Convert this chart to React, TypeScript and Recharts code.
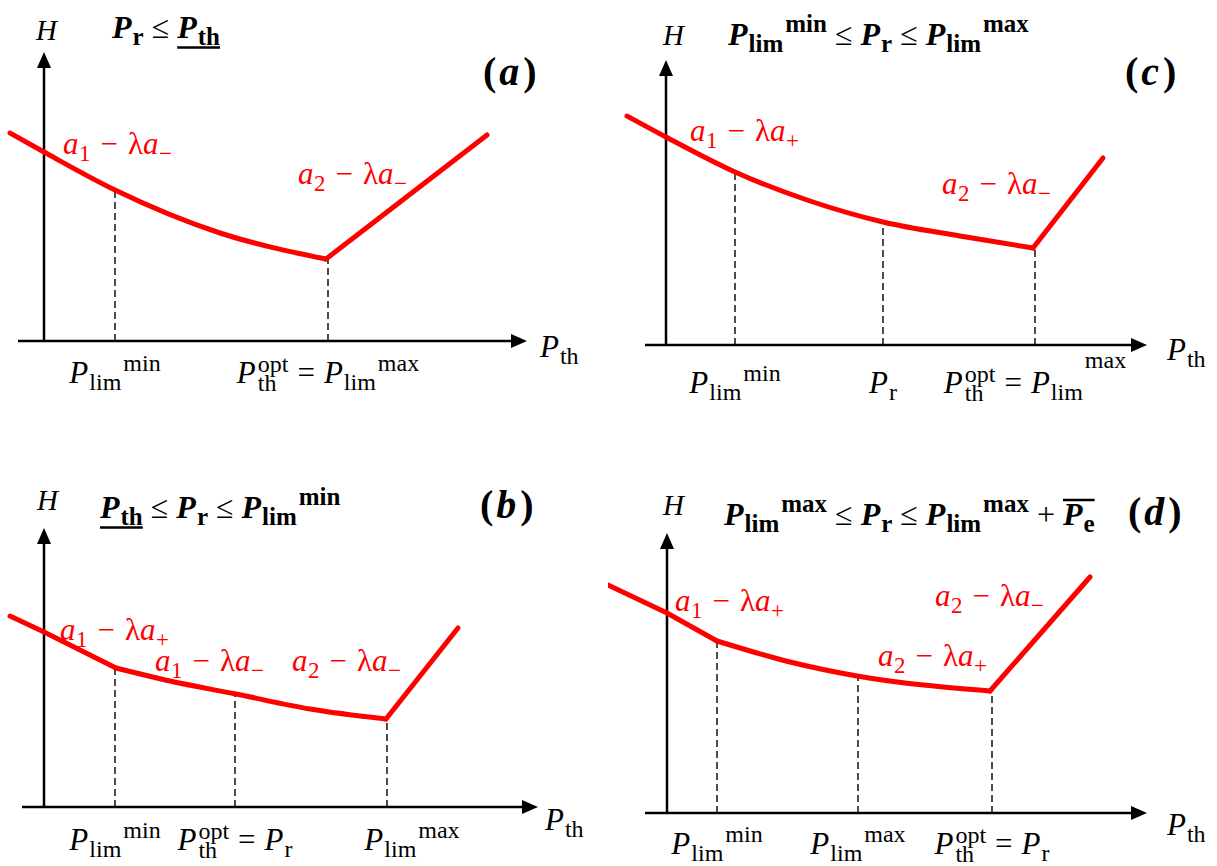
import React from 'react';
import { LineChart, Line, XAxis, YAxis, ReferenceLine, ReferenceDot } from 'recharts';

// Every panel uses the same unit: 1 unit = 10 px of the figure,
// counted from the origin of that panel's own axes (x right, H up).
type Pt = { x: number; h: number };

// (a)  P_r <= P_th
const aArc: Pt[] = [{ x: -3.4, h: 20.8 }, { x: 0, h: 18.9 }, { x: 7.1, h: 15.1 }, { x: 17.6, h: 10.8 }, { x: 28.2, h: 8.2 }];
const aRise: Pt[] = [{ x: 28.2, h: 8.2 }, { x: 44.3, h: 20.6 }];
const aGuides: Pt[] = [{ x: 7.1, h: 15.1 }, { x: 28.4, h: 8.2 }];

// (c)  P_lim^min <= P_r <= P_lim^max
const cArc: Pt[] = [{ x: -3.9, h: 22.9 }, { x: 0, h: 20.8 }, { x: 6.9, h: 17.3 }, { x: 14.4, h: 14.4 }, { x: 21.7, h: 12.3 }, { x: 29.4, h: 10.9 }, { x: 36.7, h: 9.7 }];
const cRise: Pt[] = [{ x: 36.7, h: 9.7 }, { x: 43.7, h: 18.7 }];
const cGuides: Pt[] = [{ x: 6.9, h: 17.3 }, { x: 21.7, h: 12.3 }, { x: 36.9, h: 9.7 }];

// (b)  P_th <= P_r <= P_lim^min
const bFirst: Pt[] = [{ x: -3.4, h: 19.1 }, { x: 0, h: 17.5 }, { x: 7.2, h: 13.9 }];
const bMiddle: Pt[] = [{ x: 7.2, h: 13.9 }, { x: 12.6, h: 12.6 }, { x: 19.2, h: 11.3 }, { x: 26.6, h: 9.8 }, { x: 34.2, h: 8.8 }];
const bRise: Pt[] = [{ x: 34.2, h: 8.8 }, { x: 41.4, h: 17.9 }];
const bGuides: Pt[] = [{ x: 7.1, h: 13.9 }, { x: 19.1, h: 11.3 }, { x: 34.3, h: 8.8 }];

// (d)  P_lim^max <= P_r <= P_lim^max + P_e
const dFirst: Pt[] = [{ x: -5.9, h: 22.8 }, { x: 0, h: 20.0 }, { x: 5.0, h: 17.2 }];
const dMiddle: Pt[] = [{ x: 5.0, h: 17.2 }, { x: 12.3, h: 15.1 }, { x: 19.0, h: 13.7 }, { x: 32.3, h: 12.2 }];
const dRise: Pt[] = [{ x: 32.3, h: 12.2 }, { x: 42.3, h: 23.6 }];
const dGuides: Pt[] = [{ x: 5.0, h: 17.2 }, { x: 19.1, h: 13.7 }, { x: 32.5, h: 12.2 }];

// ---- math text pieces: [kind, text, extra]
type Run = [string, string, string?];
const P_LIM_MIN: Run[] = [['i', 'P'], ['sub', 'lim'], ['sup', 'min']];
const P_LIM_MAX: Run[] = [['i', 'P'], ['sub', 'lim'], ['sup', 'max']];
const P_OPT: Run[] = [['i', 'P'], ['st', 'th', 'opt']];
const P_R: Run[] = [['i', 'P'], ['sub', 'r']];
const P_TH: Run[] = [['i', 'P'], ['sub', 'th']];
const H_LBL: Run[] = [['i', 'H']];
const A1_MINUS: Run[] = [['i', 'a'], ['sub', '1'], ['op', '−'], ['r', 'λ'], ['i', 'a'], ['sub', '−']];
const A1_PLUS: Run[] = [['i', 'a'], ['sub', '1'], ['op', '−'], ['r', 'λ'], ['i', 'a'], ['sub', '+']];
const A2_MINUS: Run[] = [['i', 'a'], ['sub', '2'], ['op', '−'], ['r', 'λ'], ['i', 'a'], ['sub', '−']];
const A2_PLUS: Run[] = [['i', 'a'], ['sub', '2'], ['op', '−'], ['r', 'λ'], ['i', 'a'], ['sub', '+']];
const tag = (c: string): Run[] => [['b', '('], ['g', '3'], ['bi', c], ['g', '4'], ['b', ')']];

const aTicks: Run[][] = [P_LIM_MIN, [...P_OPT, ['op', '='], ...P_LIM_MAX]];
const cTicks: Run[][] = [P_LIM_MIN, P_R, [...P_OPT, ['op', '='], ['i', 'P'], ['sub', 'lim'], ['hsup', 'max']]];
const bTicks: Run[][] = [P_LIM_MIN, [...P_OPT, ['op', '='], ...P_R], P_LIM_MAX];
const dTicks: Run[][] = [P_LIM_MIN, P_LIM_MAX, [...P_OPT, ['op', '='], ...P_R]];

const aTitle: Run[] = [['bi', 'P'], ['bsub', 'r'], ['op', '≤'], ['bi', 'P', 'u'], ['bsub', 'th', 'u']];
const cTitle: Run[] = [['bi', 'P'], ['bsub', 'lim'], ['bsup', 'min'], ['op', '≤'], ['bi', 'P'], ['bsub', 'r'], ['op', '≤'], ['bi', 'P'], ['bsub', 'lim'], ['bsup', 'max']];
const bTitle: Run[] = [['bi', 'P', 'u'], ['bsub', 'th', 'u'], ['op', '≤'], ['bi', 'P'], ['bsub', 'r'], ['op', '≤'], ['bi', 'P'], ['bsub', 'lim'], ['bsup', 'min']];
const dTitle: Run[] = [['bi', 'P'], ['bsub', 'lim'], ['bsup', 'max'], ['op', '≤'], ['bi', 'P'], ['bsub', 'r'], ['op', '≤'], ['bi', 'P'], ['bsub', 'lim'], ['bsup', 'max'], ['op', '+'], ['bi', 'P', 'o'], ['bsub', 'e', 'o']];

type Sty = { main: number; small: number; pad: number; gap: number };
const STY: Record<string, Sty> = {
  tick: { main: 31, small: 24, pad: 9, gap: 2 },
  red: { main: 31, small: 23, pad: 10, gap: 1 },
  title: { main: 32, small: 25, pad: 8, gap: 2 },
  tag: { main: 40, small: 24, pad: 0, gap: 0 },
  h: { main: 29, small: 20, pad: 0, gap: 0 },
};

const FONT = '"Liberation Serif", "Times New Roman", serif';
let ctx: CanvasRenderingContext2D | null = null;
function textWidth(t: string, size: number, italic: boolean, bold: boolean) {
  if (!ctx) ctx = document.createElement('canvas').getContext('2d');
  if (!ctx) return t.length * size * 0.5;
  ctx.font = `${italic ? 'italic ' : ''}${bold ? 'bold ' : ''}${size}px ${FONT}`;
  return ctx.measureText(t).width;
}

function layout(runs: Run[], s: Sty) {
  const items: any[] = [];
  const decos: any[] = [];
  let x = 0;
  for (const [k, t, e] of runs) {
    if (k === 'g') { x += Number(t); continue; }
    if (k === 'st') {
      const w1 = textWidth(t, s.small, false, false);
      const w2 = textWidth(e || '', s.small, false, false);
      items.push({ t, x: x + s.gap, dy: s.main * 0.27, size: s.small, italic: false, bold: false });
      items.push({ t: e, x: x + s.gap, dy: -s.main * 0.36, size: s.small, italic: false, bold: false });
      x += s.gap + Math.max(w1, w2);
      continue;
    }
    const bold = k.startsWith('b');
    const italic = k === 'i' || k === 'bi';
    let size = s.main, dy = 0, lead = 0, trail = 0;
    if (k === 'op') { lead = s.pad; trail = s.pad; }
    if (k.endsWith('sub')) { size = s.small; dy = s.main * 0.22; lead = s.gap / 2; }
    if (k.endsWith('sup')) { size = s.small; dy = -s.main * 0.4; lead = s.gap; }
    if (k === 'hsup') dy = -s.main * 0.8;
    x += lead;
    const w = textWidth(t, size, italic, bold);
    items.push({ t, x, dy, size, italic, bold });
    if (e) {
      const last = decos[decos.length - 1];
      if (last && last.kind === e && x - last.x2 < 6) last.x2 = x + w;
      else decos.push({ x1: x, x2: x + w, kind: e });
    }
    x += w + trail;
  }
  return { items, decos, width: x };
}

const MathText = ({ x, y, runs, sty, fill = '#000', anchor = 'start', shift = 0 }: any) => {
  const s: Sty = STY[sty];
  const L = layout(runs, s);
  const x0 = (anchor === 'middle' ? x - L.width / 2 : x) + shift;
  return (
    <g>
      {L.items.map((it: any, i: number) => (
        <text key={i} x={x0 + it.x} y={y + it.dy} fontFamily={FONT} fontSize={it.size}
          fontStyle={it.italic ? 'italic' : 'normal'} fontWeight={it.bold ? 700 : 400} fill={fill}>
          {it.t}
        </text>
      ))}
      {L.decos.map((d: any, i: number) => {
        const yy = d.kind === 'u' ? y + s.main * 0.3 : y - s.main * 0.78;
        return <line key={'d' + i} x1={x0 + d.x1} x2={x0 + d.x2} y1={yy} y2={yy} stroke={fill} strokeWidth={2.5} />;
      })}
    </g>
  );
};

type Note = { x: number; h: number; runs: Run[]; sty: string; red?: boolean };
type Panel = {
  box: { left: number; top: number; w: number; h: number };
  origin: { x: number; y: number };
  axis: { from: number; to: number; top: number };
  lines: { pts: Pt[]; smooth: boolean }[];
  guides: Pt[];
  ticks: Run[][];
  tickDy: number;
  tickShift: number[];
  notes: Note[];
};

const PANELS: Panel[] = [
  {
    box: { left: 0, top: 0, w: 608, h: 430 }, origin: { x: 44, y: 341 },
    axis: { from: -2.6, to: 48.3, top: 28.9 },
    lines: [{ pts: aArc, smooth: true }, { pts: aRise, smooth: false }],
    guides: aGuides, ticks: aTicks, tickDy: 42, tickShift: [0, 0],
    notes: [
      { x: -0.8, h: 30.1, runs: H_LBL, sty: 'h' },
      { x: 6.8, h: 30.3, runs: aTitle, sty: 'title' },
      { x: 43.9, h: 25.6, runs: tag('a'), sty: 'tag' },
      { x: 49.6, h: -1.6, runs: P_TH, sty: 'tick' },
      { x: 1.9, h: 18.7, runs: A1_MINUS, sty: 'red', red: true },
      { x: 25.4, h: 15.7, runs: A2_MINUS, sty: 'red', red: true },
    ],
  },
  {
    box: { left: 608, top: 0, w: 609, h: 430 }, origin: { x: 666, y: 345 },
    axis: { from: -2.1, to: 48.1, top: 28.5 },
    lines: [{ pts: cArc, smooth: true }, { pts: cRise, smooth: false }],
    guides: cGuides, ticks: cTicks, tickDy: 48, tickShift: [0, 0, 0],
    notes: [
      { x: -0.3, h: 30.0, runs: H_LBL, sty: 'h' },
      { x: 6.2, h: 30.0, runs: cTitle, sty: 'title' },
      { x: 45.9, h: 26.0, runs: tag('c'), sty: 'tag' },
      { x: 50.1, h: -1.5, runs: P_TH, sty: 'tick' },
      { x: 2.4, h: 20.4, runs: A1_PLUS, sty: 'red', red: true },
      { x: 27.6, h: 15.1, runs: A2_MINUS, sty: 'red', red: true },
    ],
  },
  {
    box: { left: 0, top: 430, w: 608, h: 436 }, origin: { x: 44, y: 807 },
    axis: { from: -2.2, to: 49.4, top: 27.9 },
    lines: [{ pts: bFirst, smooth: false }, { pts: bMiddle, smooth: true }, { pts: bRise, smooth: false }],
    guides: bGuides, ticks: bTicks, tickDy: 43, tickShift: [0, 0, 25],
    notes: [
      { x: -0.7, h: 29.7, runs: H_LBL, sty: 'h' },
      { x: 5.6, h: 28.9, runs: bTitle, sty: 'title' },
      { x: 43.6, h: 28.9, runs: tag('b'), sty: 'tag' },
      { x: 50.1, h: -2.3, runs: P_TH, sty: 'tick' },
      { x: 1.6, h: 16.7, runs: A1_PLUS, sty: 'red', red: true },
      { x: 11.1, h: 13.6, runs: A1_MINUS, sty: 'red', red: true },
      { x: 24.8, h: 13.6, runs: A2_MINUS, sty: 'red', red: true },
    ],
  },
  {
    box: { left: 608, top: 430, w: 609, h: 436 }, origin: { x: 667, y: 813 },
    axis: { from: -2.2, to: 48.0, top: 28.0 },
    lines: [{ pts: dFirst, smooth: false }, { pts: dMiddle, smooth: true }, { pts: dRise, smooth: false }],
    guides: dGuides, ticks: dTicks, tickDy: 41, tickShift: [0, 0, 0],
    notes: [
      { x: -0.4, h: 29.8, runs: H_LBL, sty: 'h' },
      { x: 5.7, h: 28.8, runs: dTitle, sty: 'title' },
      { x: 46.1, h: 28.8, runs: tag('d'), sty: 'tag' },
      { x: 50.0, h: -2.2, runs: P_TH, sty: 'tick' },
      { x: 0.8, h: 20.2, runs: A1_PLUS, sty: 'red', red: true },
      { x: 26.8, h: 20.7, runs: A2_MINUS, sty: 'red', red: true },
      { x: 21.1, h: 14.7, runs: A2_PLUS, sty: 'red', red: true },
    ],
  },
];

const RED = '#ff0000';

const arrowAxis = (dir: 'x' | 'y') => (p: any) => {
  const { x1, y1, x2, y2 } = p;
  const L = 16, W = 7;
  if (dir === 'x') {
    return (
      <g>
        <line x1={x1} y1={y1} x2={x2 - L + 2} y2={y2} stroke="#000" strokeWidth={2.5} />
        <polygon points={`${x2},${y2} ${x2 - L},${y2 - W} ${x2 - L},${y2 + W}`} fill="#000" />
      </g>
    );
  }
  const top = Math.min(y1, y2), bottom = Math.max(y1, y2);
  return (
    <g>
      <line x1={x1} y1={bottom} x2={x2} y2={top + L - 2} stroke="#000" strokeWidth={2.5} />
      <polygon points={`${x1},${top} ${x1 - W},${top + L} ${x1 + W},${top + L}`} fill="#000" />
    </g>
  );
};

const PanelChart = ({ p }: { p: Panel }) => {
  const xDomain: [number, number] = [(p.box.left - p.origin.x) / 10, (p.box.left + p.box.w - p.origin.x) / 10];
  const yDomain: [number, number] = [0, (p.origin.y - p.box.top) / 10];
  const axisHeight = p.box.top + p.box.h - p.origin.y;
  const renderTick = (t: any) => {
    const i = p.guides.findIndex((g) => Math.abs(g.x - t.payload.value) < 1e-6);
    if (i < 0) return <g />;
    return <MathText x={t.x} y={t.y + p.tickDy} runs={p.ticks[i]} sty="tick" anchor="middle" shift={p.tickShift[i]} />;
  };
  return (
    <div style={{ position: 'absolute', left: p.box.left, top: p.box.top }}>
      <LineChart width={p.box.w} height={p.box.h} margin={{ top: 0, right: 0, bottom: 0, left: 0 }}>
        <XAxis dataKey="x" type="number" domain={xDomain} allowDataOverflow height={axisHeight}
          ticks={p.guides.map((g) => g.x)} interval={0} axisLine={false} tickLine={false}
          tickSize={0} tickMargin={0} tick={renderTick} />
        <YAxis type="number" domain={yDomain} allowDataOverflow hide />
        <ReferenceLine segment={[{ x: p.axis.from, y: 0 }, { x: p.axis.to, y: 0 }]} ifOverflow="visible" shape={arrowAxis('x')} />
        <ReferenceLine segment={[{ x: 0, y: 0 }, { x: 0, y: p.axis.top }]} ifOverflow="visible" shape={arrowAxis('y')} />
        {p.guides.map((g, i) => (
          <ReferenceLine key={'g' + i} segment={[{ x: g.x, y: 0 }, { x: g.x, y: g.h }]} ifOverflow="visible"
            stroke="#000" strokeWidth={1.4} strokeDasharray="7 4" />
        ))}
        {p.lines.map((l, i) => (
          <Line key={'l' + i} data={l.pts} dataKey="h" type={l.smooth ? 'monotone' : 'linear'} stroke={RED}
            strokeWidth={5} strokeLinecap="round" dot={false} activeDot={false} isAnimationActive={false} />
        ))}
        {p.notes.map((n, i) => (
          <ReferenceDot key={'n' + i} x={n.x} y={n.h} r={1} ifOverflow="visible"
            shape={(d: any) => <MathText x={d.cx} y={d.cy} runs={n.runs} sty={n.sty} fill={n.red ? RED : '#000'} />} />
        ))}
      </LineChart>
    </div>
  );
};

export default function App() {
  return (
    <div style={{ position: 'absolute', left: 0, top: 0, width: 1217, height: 866, background: '#fff' }}>
      {PANELS.map((p, i) => <PanelChart key={i} p={p} />)}
    </div>
  );
}
